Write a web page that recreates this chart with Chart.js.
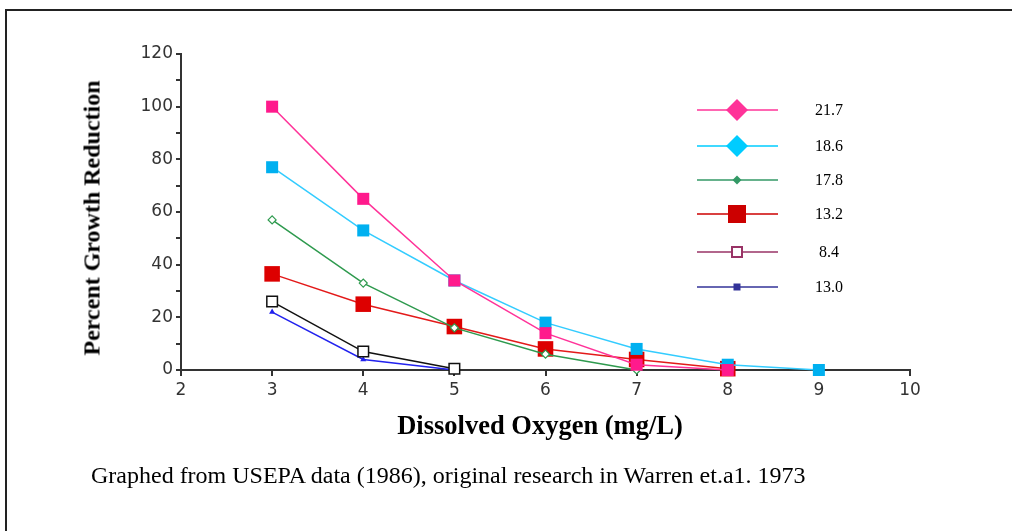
<!DOCTYPE html>
<html>
<head>
<meta charset="utf-8">
<script src="https://cdn.jsdelivr.net/npm/chart.js@4/dist/chart.umd.min.js"></script>
<style>
  html, body { margin: 0; padding: 0; background: #fff; width: 1012px; height: 531px; overflow: hidden; }
  #frame { position: absolute; left: 5px; top: 9px; width: 1100px; height: 600px; border: 2px solid #222; box-sizing: border-box; }
  #wrap { position: absolute; left: 0; top: 0; width: 1012px; height: 531px; }
  .txt { position: absolute; white-space: nowrap; color: #000; font-family: "Liberation Serif", "Times New Roman", serif; }
  #xtitle { left: 540px; top: 425px; transform: translate(-50%, -50%); font-weight: bold; font-size: 26.5px; }
  #ytitle { left: 92px; top: 218px; transform: translate(-50%, -50%) rotate(-90deg); font-weight: bold; font-size: 24px; }
  #note { left: 91px; top: 475px; transform: translateY(-50%); font-size: 24px; }
</style>
</head>
<body>
<div id="frame"></div>
<div id="wrap"><canvas id="c" width="1012" height="531"></canvas></div>
<div class="txt" id="xtitle">Dissolved Oxygen (mg/L)</div>
<div class="txt" id="ytitle">Percent Growth Reduction</div>
<div class="txt" id="note">Graphed from USEPA data (1986), original research in Warren et.a1. 1973</div>
<script>
// Dissolved oxygen levels (x) and percent growth reduction per series
const oxygen = [3, 4, 5, 6, 7, 8, 9];
const seriesLabels = ['21.7', '18.6', '17.8', '13.2', '8.4', '13.0'];
const s21_7 = [100, 65, 34, 14, 2, 0];
const s18_6 = [77, 53, 34, 18, 8, 2, 0];
const s17_8 = [57, 33, 16, 6, 0];
const s13_2 = [36.5, 25, 16.5, 8, 4, 0.5];
const s8_4 = [26, 7, 0.5];
const s13_0 = [22, 4, 0];
const xRange = [2, 10];
const yRange = [0, 120];

const seriesValues = [s21_7, s18_6, s17_8, s13_2, s8_4, s13_0];

const styles = [
  { line: '#FF3399', fill: '#FF1A8C', pt: 'rect', r: 8.5, bw: 0 },
  { line: '#33CCFF', fill: '#00B0F0', pt: 'rect', r: 8.5, bw: 0 },
  { line: '#2E9A4E', fill: '#ffffff', border: '#2E9A4E', pt: 'rectRot', r: 4, bw: 1.2 },
  { line: '#E31A1A', fill: '#DD0000', pt: 'rect', r: 11, bw: 0 },
  { line: '#111111', fill: '#ffffff', border: '#111111', pt: 'rect', r: 7.5, bw: 1.5 },
  { line: '#2222EE', fill: '#2222EE', pt: 'triangle', r: 3.5, bw: 0 }
];

const legendStyles = [
  { line: '#FF3399', fill: '#FF3399', shape: 'diamond', size: 11 },
  { line: '#00CCFF', fill: '#00CCFF', shape: 'diamond', size: 11 },
  { line: '#339966', fill: '#339966', shape: 'diamond', size: 4.5 },
  { line: '#CC0000', fill: '#CC0000', shape: 'square', size: 9 },
  { line: '#993366', fill: '#ffffff', border: '#993366', shape: 'square', size: 5 },
  { line: '#333399', fill: '#333399', shape: 'square', size: 3.5 }
];

const datasets = seriesValues.map((vals, i) => ({
  label: seriesLabels[i],
  data: vals.map((v, j) => ({ x: oxygen[j], y: v })),
  borderColor: styles[i].line,
  borderWidth: 1.5,
  backgroundColor: styles[i].fill,
  pointBackgroundColor: styles[i].fill,
  pointBorderColor: styles[i].border || styles[i].fill,
  pointBorderWidth: styles[i].bw,
  pointStyle: styles[i].pt,
  pointRadius: styles[i].r,
  pointHoverRadius: styles[i].r,
  tension: 0,
  clip: false
}));

const legendPlugin = {
  id: 'customLegend',
  afterDraw(chart) {
    const ctx = chart.ctx;
    const rowsY = [110, 146, 180, 214, 252, 287];
    const x0 = 697, x1 = 778, mx = 737, tx = 829;
    ctx.save();
    seriesLabels.forEach((lab, i) => {
      const s = legendStyles[i];
      const y = rowsY[i];
      ctx.strokeStyle = s.line;
      ctx.lineWidth = 1.5;
      ctx.beginPath(); ctx.moveTo(x0, y); ctx.lineTo(x1, y); ctx.stroke();
      ctx.fillStyle = s.fill;
      ctx.beginPath();
      if (s.shape === 'diamond') {
        ctx.moveTo(mx, y - s.size); ctx.lineTo(mx + s.size, y); ctx.lineTo(mx, y + s.size); ctx.lineTo(mx - s.size, y); ctx.closePath();
        ctx.fill();
      } else {
        ctx.rect(mx - s.size, y - s.size, s.size * 2, s.size * 2);
        ctx.fill();
        if (s.border) { ctx.strokeStyle = s.border; ctx.lineWidth = 2; ctx.stroke(); }
      }
      ctx.fillStyle = '#000';
      ctx.font = '16px "Liberation Serif", "Times New Roman", serif';
      ctx.textAlign = 'center';
      ctx.textBaseline = 'middle';
      ctx.fillText(lab, tx, y + 1);
    });
    ctx.restore();
  }
};

new Chart(document.getElementById('c'), {
  type: 'line',
  data: { datasets },
  plugins: [legendPlugin],
  options: {
    responsive: false,
    animation: false,
    events: [],
    layout: { padding: { left: 121, right: 102, top: 54, bottom: 121 } },
    plugins: { legend: { display: false }, tooltip: { enabled: false } },
    scales: {
      x: {
        type: 'linear',
        min: xRange[0], max: xRange[1],
        afterFit(scale) { scale.height = 40; },
        ticks: { stepSize: 1, autoSkip: false, padding: 4, color: '#333', font: { family: '"DejaVu Sans", sans-serif', size: 17 } },
        grid: { display: true, drawOnChartArea: false, drawTicks: true, tickLength: 6, color: '#333', lineWidth: 2 },
        border: { display: true, color: '#333', width: 2 }
      },
      y: {
        type: 'linear',
        min: yRange[0], max: yRange[1],
        afterFit(scale) { scale.width = 60; },
        ticks: {
          stepSize: 10, autoSkip: false, padding: 3, color: '#333',
          font: { family: '"DejaVu Sans", sans-serif', size: 17 },
          callback: (v) => (v % 20 === 0 ? String(v) : '')
        },
        grid: { display: true, drawOnChartArea: false, drawTicks: true, tickLength: 5, color: '#333', lineWidth: 2 },
        border: { display: true, color: '#333', width: 2 }
      }
    }
  }
});
</script>
</body>
</html>
